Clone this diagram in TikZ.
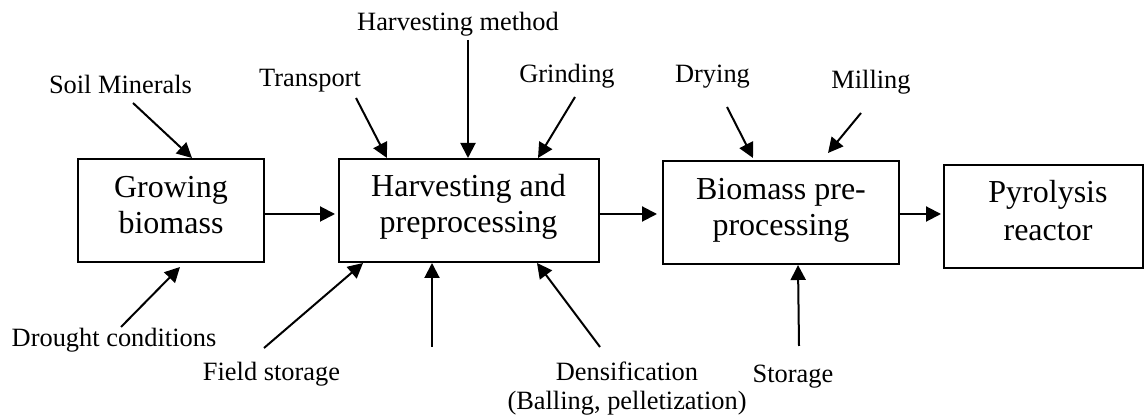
\documentclass[tikz,border=0pt]{standalone}
\usepackage{fontspec}
\setmainfont{Liberation Serif}
\usetikzlibrary{arrows.meta,calc}
\begin{document}
\begin{tikzpicture}[x=0.5pt,y=-0.5pt,
  stagebox/.style={draw,line width=1pt,inner sep=0pt},
  boxtext/.style={align=center,inner sep=0pt,font=\fontsize{16}{18}\selectfont},
  lbl/.style={inner sep=0pt,anchor=base,font=\fontsize{13.2}{14.5}\selectfont},
  arr/.style={line width=1pt,-{Triangle[length=7.5pt,width=7.5pt]}}]
\useasboundingbox (0,0) rectangle (1144,415);
% boxes
\node[stagebox,minimum width=93pt,minimum height=51.5pt] (b1) at (170.5,210.5) {};
\node[stagebox,minimum width=130pt,minimum height=51.5pt] (b2) at (469,210.5) {};
\node[stagebox,minimum width=118pt,minimum height=51.5pt] (b3) at (781,212.5) {};
\node[stagebox,minimum width=99.5pt,minimum height=51.5pt] (b4) at (1043.5,216.5) {};
\node[boxtext] (t1) at (171,205) {Growing\\biomass};
\node[boxtext] (t2) at (468.5,207) {Harvesting and\\preprocessing};
\node[boxtext] (t3) at (781,210) {Biomass pre-\\processing};
\node[boxtext,font=\fontsize{16}{19}\selectfont] (t4) at (1048,211) {Pyrolysis\\reactor};
% labels
\node[lbl] (soil) at (120.5,94) {Soil Minerals};
\node[lbl] (drought) at (114,347) {Drought conditions};
\node[lbl] (transport) at (310,87) {Transport};
\node[lbl] (field) at (271.5,381) {Field storage};
\node[lbl] (hmethod) at (458,31) {Harvesting method};
\node[lbl] (grind) at (567,83) {Grinding};
\node[align=center,inner sep=0pt,font=\fontsize{13.2}{14.5}\selectfont] (dens) at (627,388.5) {Densification\\(Balling, pelletization)};
\node[lbl] (dry) at (712.5,83) {Drying};
\node[lbl] (mill) at (871,89) {Milling};
\node[lbl] (stor) at (793,383) {Storage};
% arrow tails
\coordinate (cSoil) at (133,103);
\coordinate (cDrought) at (121,327);
\coordinate (cTransport) at (356,98);
\coordinate (cField) at (264,348);
\coordinate (cHM) at (468,40);
\coordinate (cGrind) at (575,97);
\coordinate (cBottom) at (432,347);
\coordinate (cDens) at (600,347);
\coordinate (cDry) at (727,107);
\coordinate (cMill) at (861,113);
\coordinate (cStor) at (799,346);
% arrows into boxes
\draw[arr] (cSoil) -- ($(b1.north)+(21.5,0)$);
\draw[arr] (cDrought) -- ($(b1.south)+(9.5,4)$);
\draw[arr] (cTransport) -- ($(b2.north)+(-82,0)$);
\draw[arr] (cHM) -- ($(b2.north)+(-1,0)$);
\draw[arr] (cGrind) -- ($(b2.north)+(69,0)$);
\draw[arr] (cField) -- ($(b2.south)+(-106,0)$);
\draw[arr] (cBottom) -- ($(b2.south)+(-37,0)$);
\draw[arr] (cDens) -- ($(b2.south)+(68,0)$);
\draw[arr] (cDry) -- ($(b3.north)+(-28,-2)$);
\draw[arr] (cMill) -- ($(b3.north)+(47,-7)$);
\draw[arr] (cStor) -- ($(b3.south)+(17,0)$);
% main flow
\draw[arr] ($(b1.east)+(0,3.5)$) -- ($(b2.west)+(-3,3.5)$);
\draw[arr] ($(b2.east)+(0,3.5)$) -- ($(b3.west)+(-5,1.5)$);
\draw[arr] ($(b3.east)+(0,1.5)$) -- ($(b4.west)+(-2,-2.5)$);
\end{tikzpicture}
\end{document}
